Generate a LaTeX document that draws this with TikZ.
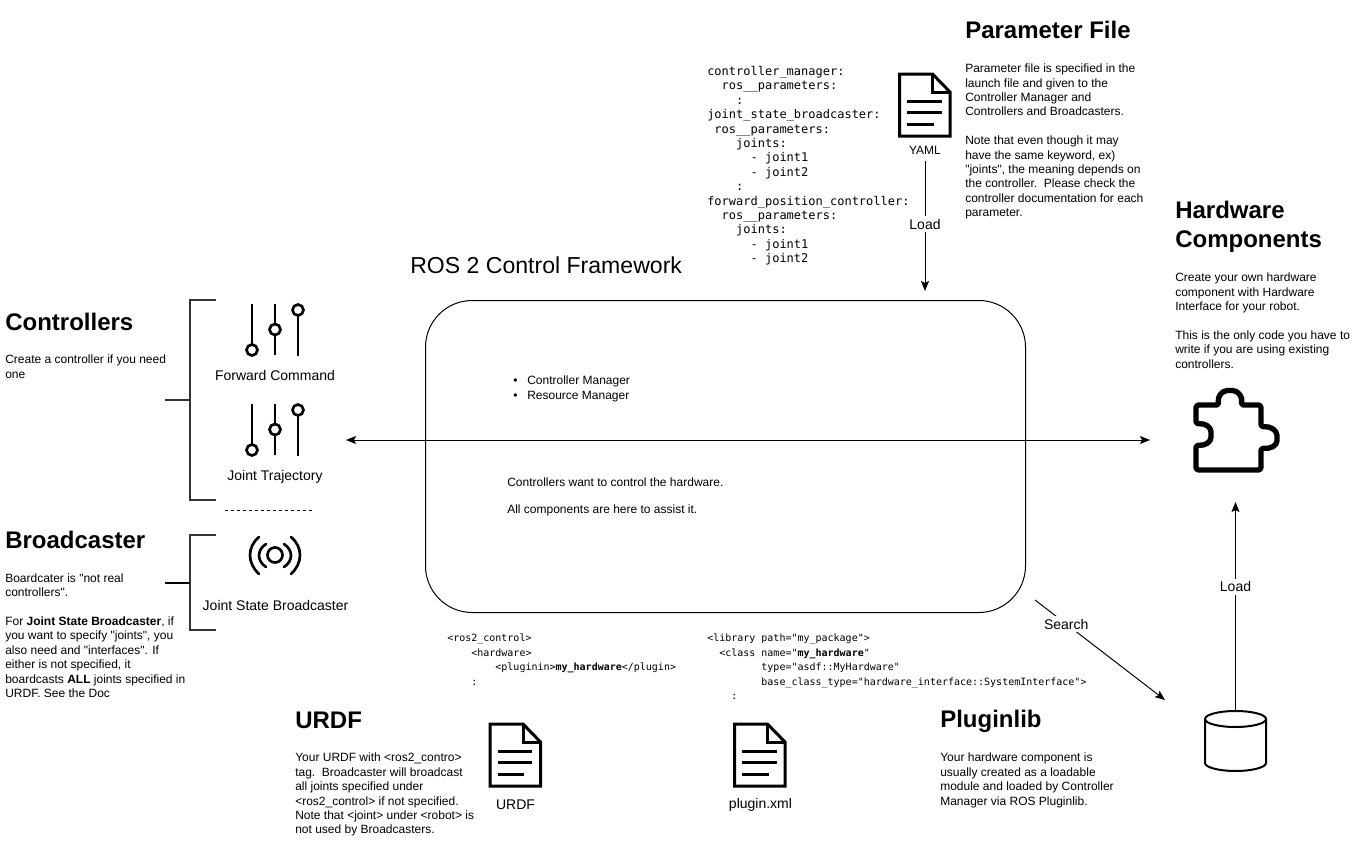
\documentclass[tikz,border=0pt]{standalone}
\usepackage{fontspec}
\setmainfont{Liberation Sans}[Ligatures=TeXOff]
\setmonofont{DejaVu Sans Mono}
\usetikzlibrary{arrows.meta}
\tikzset{
  x=0.75pt,y=-0.75pt,
  txt/.style={anchor=north west,inner sep=0pt,align=left,font=\fontsize{9}{10.8}\selectfont},
  head/.style={anchor=west,inner sep=0pt,align=left,font=\fontsize{18}{21.75}\selectfont\bfseries},
  code/.style={anchor=north west,inner sep=0pt,align=left,font=\fontsize{9}{10.8}\selectfont\ttfamily},
  smallcode/.style={anchor=north west,inner sep=0pt,align=left,font=\fontsize{7.5}{10.8}\selectfont\ttfamily},
  lab/.style={inner sep=0pt,font=\fontsize{10.5}{12}\selectfont},
  edgelab/.style={fill=white,inner sep=2pt,font=\fontsize{10.5}{12}\selectfont},
  conn/.style={line width=0.75pt,-{Stealth[length=7.5pt,width=6pt,inset=1.5pt]}},
  connb/.style={line width=0.75pt,{Stealth[length=7.5pt,width=6pt,inset=1.5pt]}-{Stealth[length=7.5pt,width=6pt,inset=1.5pt]}},
  bracketline/.style={line width=1.5pt,draw=black!80},
  icon/.style={line width=2pt,draw=black},
}
\newcommand{\ind}[1]{\hspace*{\dimexpr #1\dimexpr 5.418pt\relax\relax}}
\newcommand{\sind}[1]{\hspace*{\dimexpr #1\dimexpr 4.515pt\relax\relax}}
\newcommand{\docicon}[3]{%
  \begin{scope}[shift={(#1,#2)}]
    \draw[line width=#3,line join=miter] (0,0) -- (33,0) -- (50.5,18) -- (50.5,62) -- (0,62) -- cycle;
    \draw[line width=#3] (33,0) -- (33,18) -- (50.5,18);
    \draw[line width=#3] (7.5,27) -- (42,27) (7.5,38.5) -- (42,38.5) (7.5,50) -- (34,50);
  \end{scope}}
\newcommand{\sliders}[1]{%
  \begin{scope}[shift={(0,#1)}]
    \draw[icon] (252,304) -- (252,344.5) (275,304) -- (275,355) (298,316) -- (298,356);
    \draw[icon,fill=white] (252,350) circle[radius=5.5] (275,329.5) circle[radius=5.5] (298,310) circle[radius=5.5];
  \end{scope}}
\begin{document}
\begin{tikzpicture}
\useasboundingbox (0,0) rectangle (1361,860);
\fill[white] (0,0) rectangle (1361,860);

% framework
\node[draw,line width=0.75pt,rounded corners=35pt,minimum width=450pt,minimum height=234pt,inner sep=0pt] (fw) at (725.5,456.5) {};
\node[inner sep=0pt,anchor=west,font=\fontsize{17.3}{21}\selectfont] (fwtitle) at (410,265) {ROS 2 Control Framework};
\node[txt] (mgrs) at (513,376) {\makebox[10.5pt][l]{•}Controller Manager\\\makebox[10.5pt][l]{•}Resource Manager};
\node[txt] (want) at (507,478) {Controllers want to control the hardware.};
\node[txt] (assist) at (507,505) {All components are here to assist it.};

% parameter file
\node[head] (phead) at (965,30) {Parameter File};
\node[txt] (ptext) at (965,63.7) {Parameter file is specified in the\\launch file and given to the\\Controller Manager and\\Controllers and Broadcasters.\\[10.8pt]Note that even though it may\\have the same keyword, ex)\\"joints", the meaning depends on\\the controller.\ \ Please check the\\controller documentation for each\\parameter.};
\node[code] (yamlcode) at (707,66) {controller\_manager:\\\ind{2}ros\_\_parameters:\\\ind{4}:\\joint\_state\_broadcaster:\\\ind{1}ros\_\_parameters:\\\ind{4}joints:\\\ind{6}- joint1\\\ind{6}- joint2\\\ind{4}:\\forward\_position\_controller:\\\ind{2}ros\_\_parameters:\\\ind{4}joints:\\\ind{6}- joint1\\\ind{6}- joint2};
\docicon{899.5}{74}{2.25pt}
\node[inner sep=0pt,font=\fontsize{9}{10}\selectfont] (yaml) at (925,150) {YAML};
\coordinate (yamlend) at (925,161);
\coordinate (fwin) at (925,291);
\draw[conn] (yamlend) -- node[edgelab,pos=0.485] (load1) {Load} (fwin);

% hardware
\node[head,anchor=north west] (hhead) at (1175,200.5) {Hardware\\Components};
\node[txt] (htext) at (1175,273) {Create your own hardware\\component with Hardware\\Interface for your robot.\\[10.8pt]This is the only code you have to\\write if you are using existing\\controllers.};
\draw[line width=4pt,line join=round,rounded corners=2pt]
  (1196,405) -- (1219,405) .. controls (1217,397) and (1222,390.5) .. (1230,390.5)
  .. controls (1238,390.5) and (1243,397) .. (1241,405) -- (1261,405) -- (1261,427)
  .. controls (1270,426) and (1277,430) .. (1277,438)
  .. controls (1277,446) and (1270,449) .. (1261,448) -- (1261,470) -- (1196,470) -- (1196,445)
  .. controls (1205,446) and (1211,442) .. (1211,434.5)
  .. controls (1211,427) and (1205,423) .. (1196,424) -- cycle;

% double arrow
\coordinate (leftend) at (346,440);
\coordinate (rightend) at (1150,440);
\draw[connb] (leftend) -- (rightend);

% controllers
\node[head] (chead) at (5,322) {Controllers};
\node[txt] (ctext) at (5,355) {Create a controller if you need\\one};
\draw[bracketline] (216,300) -- (190,300) -- (190,500) -- (216,500);
\draw[bracketline] (165,400) -- (190,400);
\sliders{0}
\node[lab] (fc) at (275,375) {Forward Command};
\sliders{100}
\node[lab] (jt) at (275,476.5) {Joint Trajectory};
\draw[line width=0.75pt,dash pattern=on 2.25pt off 2.25pt] (225,510) -- (313,510);

% broadcaster
\node[head] (bhead) at (5,539.5) {Broadcaster};
\node[txt] (btext) at (5,573.3) {Boardcater is "not real\\controllers".\\[10.8pt]For \textbf{Joint State Broadcaster}, if\\you want to specify "joints", you\\also need and "interfaces". If\\either is not specified, it\\boardcasts \textbf{ALL} joints specified in\\URDF. See the Doc};
\draw[bracketline] (216,535) -- (190,535) -- (190,630) -- (216,630);
\draw[line width=1.5pt] (165,582.5) -- (190,582.5);
\draw[icon] (275,555) circle[radius=7.5];
\draw[icon,line cap=round] (266,544) .. controls (256.7,550) and (256.7,561) .. (266,567);
\draw[icon,line cap=round] (284,544) .. controls (293.3,550) and (293.3,561) .. (284,567);
\draw[icon,line cap=round] (259,537) .. controls (247,547) and (247,563) .. (259,574);
\draw[icon,line cap=round] (291,537) .. controls (303,547) and (303,563) .. (291,574);
\node[lab] (jsb) at (275.5,605) {Joint State Broadcaster};

% URDF
\node[smallcode] (urdfcode) at (447,634) {<ros2\_control>\\\sind{4}<hardware>\\\sind{8}<pluginin>\textbf{my\_hardware}</plugin>\\\sind{4}:};
\node[head] (uhead) at (295,720) {URDF};
\node[txt] (utext) at (295,753) {Your URDF with <ros2\_contro>\\tag.\ \ Broadcaster will broadcast\\all joints specified under\\<ros2\_control> if not specified.\\Note that <joint> under <robot> is\\not used by Broadcasters.};
\docicon{490}{724}{2.25pt}
\node[lab] (urdf) at (515.5,804.5) {URDF};

% plugin
\node[smallcode] (plugcode) at (707,634) {<library path="my\_package">\\\sind{2}<class name="\textbf{my\_hardware}"\\\sind{9}type="asdf::MyHardware"\\\sind{9}base\_class\_type="hardware\_interface::SystemInterface">\\\sind{4}:};
\docicon{734.5}{724}{2.25pt}
\node[lab] (plug) at (760.5,805) {plugin.xml};
\node[head] (plhead) at (940,721) {Pluginlib};
\node[txt] (pltext) at (940,753) {Your hardware component is\\usually created as a loadable\\module and loaded by Controller\\Manager via ROS Pluginlib.};

% database
\node[inner sep=0pt,minimum width=45.75pt,minimum height=45pt] (db) at (1235.5,741) {};
\draw[line width=1.5pt,fill=white] (1205,719) -- (1205,763) .. controls (1205,767.4) and (1219,771) .. (1235.5,771) .. controls (1252,771) and (1266,767.4) .. (1266,763) -- (1266,719);
\draw[line width=1.5pt] (1235.5,719) ellipse[x radius=30.5,y radius=8];
\coordinate (hwin) at (1235.5,502);
\draw[conn] (db.north) -- node[edgelab,pos=0.593] (load2) {Load} (hwin);

% search
\coordinate (searchstart) at (1035,600);
\coordinate (searchend) at (1165,700);
\draw[conn] (searchstart) -- node[edgelab,pos=0.24] (search) {Search} (searchend);
\end{tikzpicture}
\end{document}
